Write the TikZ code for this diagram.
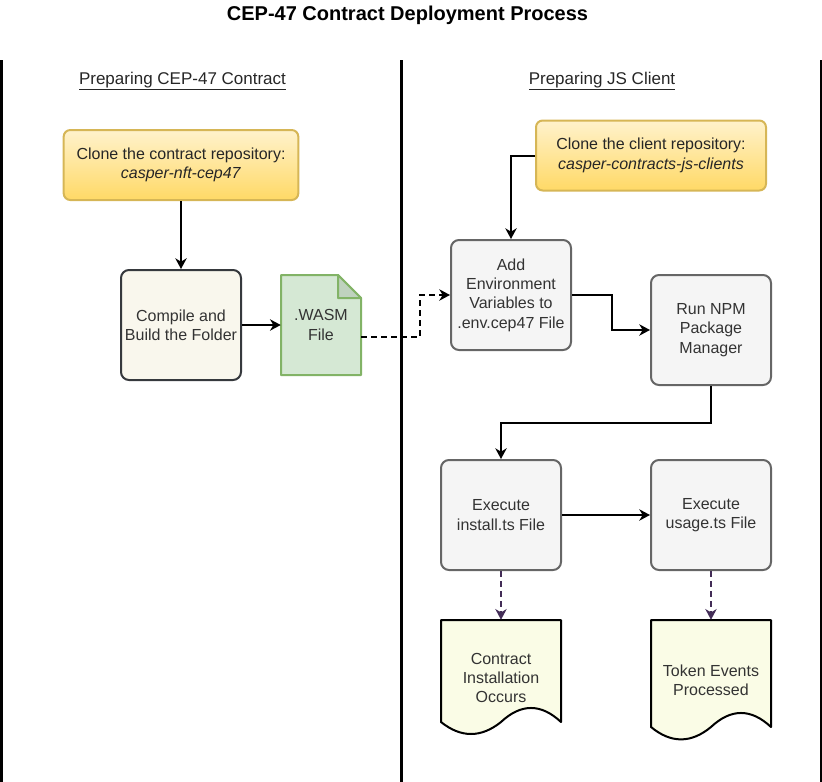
\documentclass[tikz,border=0pt]{standalone}
\usepackage{fontspec}
\setmainfont{Liberation Sans}
\usetikzlibrary{arrows.meta,calc}
\definecolor{ytop}{HTML}{FFF2CC}
\definecolor{ybot}{HTML}{FFD966}
\definecolor{ydraw}{HTML}{D6B656}
\definecolor{bfill}{HTML}{F9F7ED}
\definecolor{bdraw}{HTML}{36393D}
\definecolor{gfill}{HTML}{F5F5F5}
\definecolor{gdraw}{HTML}{666666}
\definecolor{gtext}{HTML}{333333}
\definecolor{wfill}{HTML}{D5E8D4}
\definecolor{wdraw}{HTML}{82B366}
\definecolor{wfold}{HTML}{BFD2BE}
\definecolor{dfill}{HTML}{FAFCE6}
\definecolor{purp}{HTML}{432D57}
\begin{document}
\begin{tikzpicture}[x=0.75pt,y=-0.75pt,
  every node/.style={font=\fontsize{12pt}{14.5pt}\selectfont, align=center, inner sep=0pt},
  arr/.style={line width=1.5pt, -{Stealth[length=8pt,width=8.5pt,inset=2.5pt]}},
  yellowbox/.style={draw=ydraw, line width=1.5pt, rounded corners=5pt, top color=ytop, bottom color=ybot, text=black!85, minimum width=176pt, minimum height=52.5pt},
  stepbox/.style={draw=gdraw, fill=gfill, text=gtext, line width=1.5pt, rounded corners=6pt, minimum width=90pt, minimum height=82.5pt},
  dashline/.style={dash pattern=on 4.5pt off 3pt},
  shapeline/.style={line width=1.5pt, line join=round},
]
\useasboundingbox (0,0) rectangle (822,782);

% title and headers
\node[font=\fontsize{15pt}{18pt}\selectfont\bfseries] (title) at (407.5,15) {CEP-47 Contract Deployment Process};
\node[font=\fontsize{12.75pt}{15pt}\selectfont, text=black!85] (hl) at (182.5,81) {\underline{Preparing CEP-47 Contract}};
\node[font=\fontsize{12.75pt}{15pt}\selectfont, text=black!85] (hr) at (602,81) {\underline{Preparing JS Client}};

% lane lines
\draw[line width=1.7pt] (1.5,60) -- (1.5,782);
\draw[line width=1.7pt] (401.5,60) -- (401.5,782);
\draw[line width=1.7pt] (821,60) -- (821,782);

% left lane
\node[yellowbox] (A) at (181,165) {Clone the contract repository:\\\textit{casper-nft-cep47}};
\node[draw=bdraw, fill=bfill, text=gtext, line width=1.5pt, rounded corners=6pt, minimum width=90pt, minimum height=82.5pt] (B) at (181,325) {Compile and\\Build the Folder};

% WASM note shape
\filldraw[fill=wfill, draw=wdraw, shapeline] (281,275) -- (338,275) -- (361,298) -- (361,375) -- (281,375) -- cycle;
\filldraw[fill=wfold, draw=wdraw, shapeline] (338,275) -- (338,298) -- (361,298) -- cycle;
\node[minimum width=60pt, minimum height=75pt, text=gtext] (W) at (321,325) {.WASM\\File};

% right lane
\node[yellowbox, minimum width=172.5pt] (C) at (651,155.5) {Clone the client repository:\\\textit{casper-contracts-js-clients}};
\node[stepbox] (D) at (511,295) {Add\\Environment\\Variables to\\.env.cep47 File};
\node[stepbox] (E) at (711,330) {Run NPM\\Package\\Manager};
\node[stepbox] (F) at (501,515) {Execute\\install.ts File};
\node[stepbox] (G) at (711,515) {Execute\\usage.ts File};

% documents
\filldraw[fill=dfill, draw=black, shapeline]
  (441,620) -- (561,620) -- (561,722) .. controls (541,703.3) and (521,703.3) .. (501,722)
  .. controls (481,738) and (461,738) .. (441,722) -- cycle;
\filldraw[fill=dfill, draw=black, shapeline]
  (651,620) -- (771,620) -- (771,727) .. controls (751,708.3) and (731,708.3) .. (711,727)
  .. controls (691,743.5) and (671,743.5) .. (651,727) -- cycle;
\node[minimum width=90pt, minimum height=87pt, text=gtext] (H) at (501,678) {Contract\\Installation\\Occurs};
\node[minimum width=90pt, minimum height=90pt, text=gtext] (I) at (711,680) {Token Events\\Processed};

% connectors
\draw[arr] (A.south) -- (B.north);
\draw[arr] (B.east) -- (W.west);
\draw[arr, dashline] ($(W.east)+(0,12)$) -| ($(D.west)+(-30,0)$) -- (D.west);
\draw[arr] (C.west) -| (D.north);
\draw[arr] (D.east) -- ++(40,0) |- (E.west);
\draw[arr] (E.south) -- ++(0,37) -| (F.north);
\draw[arr] (F.east) -- (G.west);
\draw[arr, dashline, purp] (F.south) -- (H.north);
\draw[arr, dashline, purp] (G.south) -- (I.north);
\end{tikzpicture}
\end{document}
